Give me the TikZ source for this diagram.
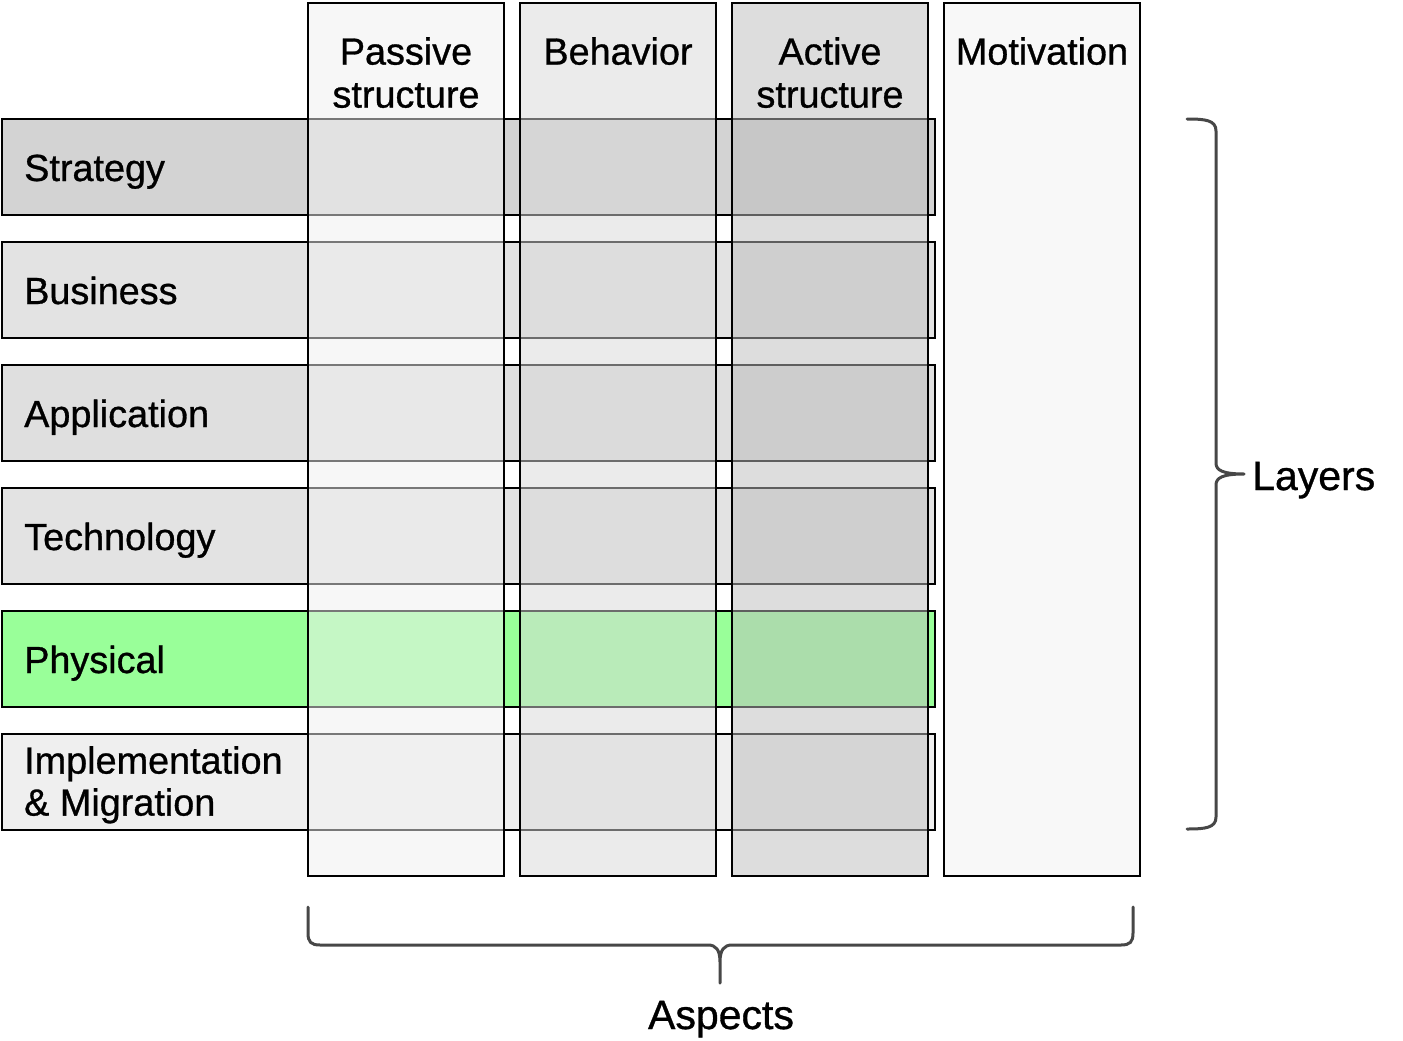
\documentclass[tikz,border=0pt]{standalone}
\usepackage{fontspec}
\setmainfont{Liberation Sans}[FakeBold=0.8]
\definecolor{cstrat}{HTML}{D3D3D3}
\definecolor{cbus}{HTML}{E3E3E3}
\definecolor{capp}{HTML}{DFDFDF}
\definecolor{ctech}{HTML}{E3E3E3}
\definecolor{cphys}{HTML}{99FF99}
\definecolor{cimpl}{HTML}{EFEFEF}
\definecolor{cpass}{HTML}{F1F1F1}
\definecolor{cbeh}{HTML}{D9D9D9}
\definecolor{cact}{HTML}{BDBDBD}
\definecolor{cmot}{HTML}{F8F8F8}
\definecolor{cbrace}{HTML}{474747}
\begin{document}
\begin{tikzpicture}[x=1pt,y=-1pt,
  rowbox/.style={draw=black, line width=2pt, anchor=north west, minimum width=933pt, minimum height=96pt, inner sep=0pt, outer sep=0pt},
  colbox/.style={draw=black, line width=2pt, anchor=north west, minimum width=196pt, minimum height=873pt, inner sep=0pt, outer sep=0pt},
  lbl/.style={font=\fontsize{37.8}{42}\selectfont, inner sep=0pt, anchor=base west},
  lbltwo/.style={font=\fontsize{37.8}{42}\selectfont, inner sep=0pt, anchor=north west, align=left},
  hdr/.style={font=\fontsize{37.8}{43}\selectfont, inner sep=0pt, anchor=north, align=center},
  bigtxt/.style={font=\fontsize{41}{46}\selectfont, inner sep=0pt},
  brace/.style={draw=cbrace, line width=3pt, line cap=round, line join=round}]
\useasboundingbox (0,0) rectangle (1403,1041);
\fill[white] (0,0) rectangle (1403,1041);

% layers (rows)
\node[rowbox, fill=cstrat] (rstrat) at (2,119) {};
\node[rowbox, fill=cbus]   (rbus)   at (2,242) {};
\node[rowbox, fill=capp]   (rapp)   at (2,365) {};
\node[rowbox, fill=ctech]  (rtech)  at (2,488) {};
\node[rowbox, fill=cphys]  (rphys)  at (2,611) {};
\node[rowbox, fill=cimpl]  (rimpl)  at (2,734) {};

% aspects (columns)
\node[colbox, fill=cpass, fill opacity=0.5] (cpassive)  at (308,3) {};
\node[colbox, fill=cbeh,  fill opacity=0.5] (cbehavior) at (520,3) {};
\node[colbox, fill=cact,  fill opacity=0.5] (cactive)   at (732,3) {};
\node[colbox, fill=cmot] (cmotiv) at (944,3) {};

% column headers
\node[hdr] (hpassive)  at (406,37) {Passive\\structure};
\node[hdr] (hbehavior) at (618,37) {Behavior};
\node[hdr] (hactive)   at (830,37) {Active\\structure};
\node[hdr] (hmotiv)    at (1042,37) {Motivation};

% row labels
\node[lbl] (lstrat) at (24,181) {Strategy};
\node[lbl] (lbus)   at (24,304) {Business};
\node[lbl] (lapp)   at (24,427) {Application};
\node[lbl] (ltech)  at (24,550) {Technology};
\node[lbl] (lphys)  at (24,673) {Physical};
\node[lbltwo] (limpl) at (24,746) {Implementation\\\& Migration};

% braces
\draw[brace] (1187,119) .. controls (1205,119) and (1216,120) .. (1216,131)
  -- (1216,463) .. controls (1216,470) and (1222,474) .. (1244,474)
  .. controls (1222,474) and (1216,478) .. (1216,485)
  -- (1216,817) .. controls (1216,828) and (1205,829) .. (1187,829);
\node[bigtxt, anchor=base west] (layers) at (1252,490) {Layers};

\draw[brace] (308,907) -- (308,933) .. controls (308,942) and (311,945) .. (320,945)
  -- (708,945) .. controls (716,945) and (720,950) .. (720,962) -- (720,983)
  -- (720,962) .. controls (720,950) and (724,945) .. (732,945)
  -- (1121,945) .. controls (1130,945) and (1133,942) .. (1133,933) -- (1133,907);
\node[bigtxt, anchor=base] (aspects) at (721,1029) {Aspects};
\end{tikzpicture}
\end{document}
